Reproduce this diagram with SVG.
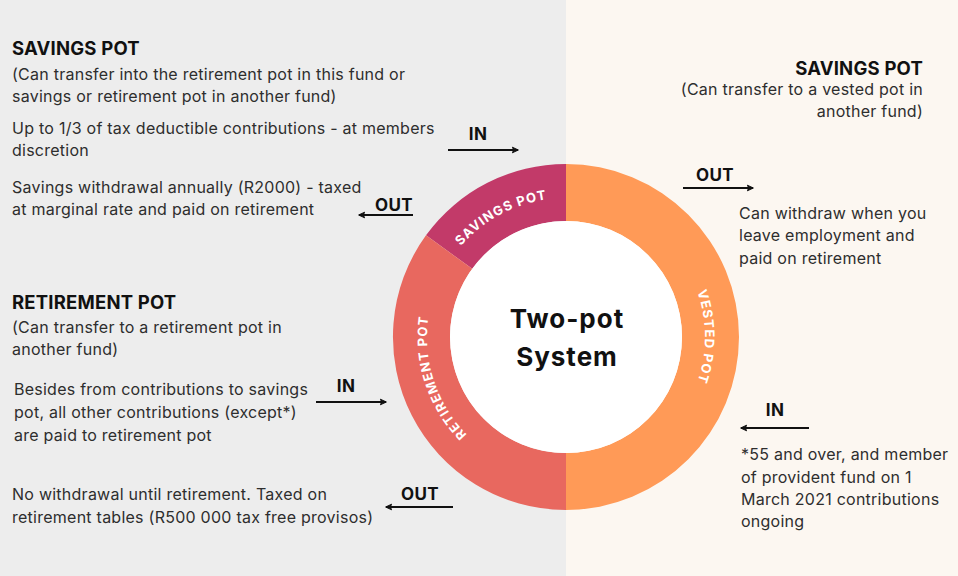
<svg xmlns="http://www.w3.org/2000/svg" width="958" height="576" viewBox="0 0 958 576">
<style>
.h{font-family:Inter,"Noto Sans","Liberation Sans",sans-serif;font-weight:700;font-size:18.5px;letter-spacing:0.2px;fill:#111}
.t{font-family:Inter,"Noto Sans","Liberation Sans",sans-serif;font-size:16px;letter-spacing:0.25px;fill:#2e2e2e}
.lbl{font-family:Inter,"Noto Sans","Liberation Sans",sans-serif;font-weight:700;font-size:17px;letter-spacing:0.4px;fill:#111}
.ring{font-family:Inter,"Noto Sans","Liberation Sans",sans-serif;font-weight:700;font-size:13px;fill:#fff;letter-spacing:1.1px}
.ctr{font-family:Inter,"Noto Sans","Liberation Sans",sans-serif;font-weight:700;font-size:26px;letter-spacing:1px;fill:#111}
.arr{stroke:#111;stroke-width:2;fill:none;marker-end:url(#ah)}
</style>
<defs>
<marker id="ah" viewBox="0 0 10 10" refX="8" refY="5" markerWidth="4" markerHeight="4" orient="auto" markerUnits="strokeWidth">
<path d="M1,1.5 L8.5,5 L1,8.5 L2.5,5 Z" fill="#111" stroke="#111" stroke-width="1.2" stroke-linejoin="round"/>
</marker>
<path id="circ" d="M566,198 A139 139 0 1 1 566,476 A139 139 0 1 1 566,198"/>
</defs>
<rect x="0" y="0" width="566" height="576" fill="#ededed"/>
<rect x="566" y="0" width="392" height="576" fill="#fcf7f1"/>

<g id="ring">
<g id="savings-pot">
<path d="M426,235.3 A173 173 0 0 1 566,164 L566,221 A116 116 0 0 0 472.2,268.8 Z" fill="#c23a69"/>
<text class="ring"><textPath href="#circ" startOffset="804" text-anchor="middle">SAVINGS POT</textPath></text>
</g>
<g id="retirement-pot">
<path d="M566,510 A173 173 0 0 1 426,235.3 L472.2,268.8 A116 116 0 0 0 566,453 Z" fill="#e8685f"/>
<text class="ring"><textPath href="#circ" startOffset="611" text-anchor="middle">RETIREMENT POT</textPath></text>
</g>
<g id="vested-pot">
<path d="M566,164 A173 173 0 0 1 566,510 L566,453 A116 116 0 0 0 566,221 Z" fill="#ff9a57"/>
<text class="ring"><textPath href="#circ" startOffset="218" text-anchor="middle">VESTED POT</textPath></text>
</g>
<g id="center">
<circle cx="566" cy="337" r="116" fill="#fff"/>
<text class="ctr" x="567" y="328" text-anchor="middle">Two-pot</text>
<text class="ctr" x="567" y="366" text-anchor="middle">System</text>
</g>
</g>

<g id="savings-left">
<text class="h" x="12" y="55">SAVINGS POT</text>
<text class="t" x="12" y="80">(Can transfer into the retirement pot in this fund or</text>
<text class="t" x="12" y="102">savings or retirement pot in another fund)</text>
<text class="t" x="12" y="134">Up to 1/3 of tax deductible contributions - at members</text>
<text class="t" x="12" y="156">discretion</text>
<text class="t" x="12" y="193">Savings withdrawal annually (R2000) - taxed</text>
<text class="t" x="12" y="215">at marginal rate and paid on retirement</text>
</g>

<g id="vested-right">
<text class="h" x="923" y="75" text-anchor="end">SAVINGS POT</text>
<text class="t" x="923" y="95" text-anchor="end">(Can transfer to a vested pot in</text>
<text class="t" x="923" y="117" text-anchor="end">another fund)</text>
<text class="t" x="739" y="219">Can withdraw when you</text>
<text class="t" x="739" y="241">leave employment and</text>
<text class="t" x="739" y="264">paid on retirement</text>
<text class="t" x="741" y="460">*55 and over, and member</text>
<text class="t" x="741" y="483">of provident fund on 1</text>
<text class="t" x="741" y="505">March 2021 contributions</text>
<text class="t" x="741" y="527">ongoing</text>
</g>

<g id="retirement-left">
<text class="h" x="12" y="309">RETIREMENT POT</text>
<text class="t" x="12" y="333">(Can transfer to a retirement pot in</text>
<text class="t" x="12" y="355">another fund)</text>
<text class="t" x="14" y="395">Besides from contributions to savings</text>
<text class="t" x="14" y="418">pot, all other contributions (except*)</text>
<text class="t" x="14" y="441">are paid to retirement pot</text>
<text class="t" x="12" y="500">No withdrawal until retirement. Taxed on</text>
<text class="t" x="12" y="523">retirement tables (R500 000 tax free provisos)</text>
</g>

<g id="connectors">
<text class="lbl" x="478" y="140" text-anchor="middle">IN</text>
<path class="arr" d="M448,150 H518"/>
<text class="lbl" x="394" y="211" text-anchor="middle">OUT</text>
<path class="arr" d="M413,215 H359"/>
<text class="lbl" x="715" y="181" text-anchor="middle">OUT</text>
<path class="arr" d="M683,188 H753"/>
<text class="lbl" x="346" y="392" text-anchor="middle">IN</text>
<path class="arr" d="M316,402 H386"/>
<text class="lbl" x="775" y="416" text-anchor="middle">IN</text>
<path class="arr" d="M809,428 H741"/>
<text class="lbl" x="420" y="500" text-anchor="middle">OUT</text>
<path class="arr" d="M453,507 H386"/>
</g>
</svg>
